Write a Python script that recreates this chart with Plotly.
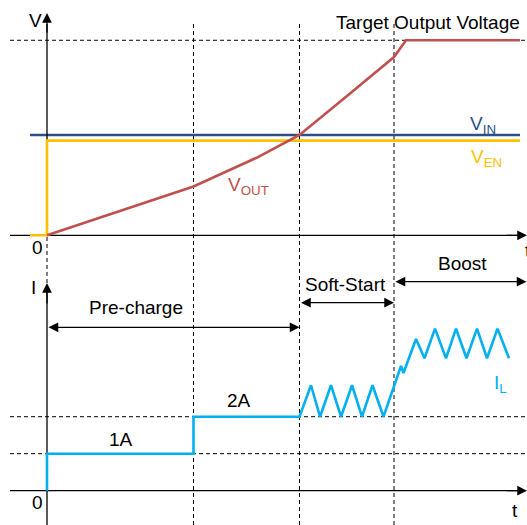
import plotly.graph_objects as go

# ---------------- data (schematic units: time t, volts V, amps A) ----------------
T1, T2, T3 = 1.465, 2.525, 3.47          # phase boundaries (Pre-charge step, Soft-Start, Boost)
V_IN = 3.6
V_EN = 3.4
V_TARGET = 7.0
I_STEP1 = 1.0
I_STEP2 = 2.0

vin_t = [-0.17, 4.73]
vin_v = [V_IN, V_IN]

ven_t = [-0.17, 0.0, 0.0, 4.73]
ven_v = [0.0, 0.0, V_EN, V_EN]

vout_t = [0.0, 1.465, 2.10, 2.525, 3.0, 3.47, 3.59, 4.73]
vout_v = [0.0, 1.75, 2.79, 3.6, 5.0, 6.4, 7.0, 7.0]

il_t = [0.0, 0.0, 1.465, 1.465, 2.525,
        2.64, 2.73, 2.84, 2.94, 3.05, 3.15, 3.255, 3.365,
        3.54, 3.565,
        3.69, 3.775, 3.88, 3.99, 4.09, 4.195, 4.30, 4.40, 4.505, 4.62]
il_a = [0.0, 1.0, 1.0, 2.0, 2.0,
        2.85, 2.0, 2.85, 2.0, 2.85, 2.0, 2.85, 2.0,
        3.37, 3.18,
        4.10, 3.58, 4.38, 3.58, 4.38, 3.58, 4.38, 3.58, 4.38, 3.58]

phase_labels = ["Pre-charge", "Soft-Start", "Boost"]
current_labels = ["1A", "2A"]

# ---------------- layout geometry (pixel anchors) ----------------
W, H = 527, 525
X0, PX_PER_T = 47.0, 100.0
V0_PX, PX_PER_V = 235.3, 27.86
I0_PX, PX_PER_A = 490.7, 37.0

def tx(px):
    return (px - X0) / PX_PER_T

def vy(py):
    return (V0_PX - py) / PX_PER_V

def iy(py):
    return (I0_PX - py) / PX_PER_A

FONT = "Liberation Sans, Arial, sans-serif"
FS = 19
C_VOUT = "#C0504D"
C_VIN = "#2D4F86"
C_VEN = "#FFC000"
C_IL = "#00B0F0"
AX = dict(color="black", width=1.3)

fig = go.Figure()
fig.add_trace(go.Scatter(x=vin_t, y=vin_v, mode="lines", line=dict(color=C_VIN, width=2.6), yaxis="y"))
# axis lines (drawn above V_IN, below the other curves)
fig.add_trace(go.Scatter(x=[tx(10), tx(518), None, 0, 0], y=[0, 0, None, 0, vy(24)],
                         mode="lines", line=AX, yaxis="y"))
fig.add_trace(go.Scatter(x=[tx(10), tx(518), None, 0, 0], y=[0, 0, None, iy(525), iy(292)],
                         mode="lines", line=AX, yaxis="y2"))
fig.add_trace(go.Scatter(x=ven_t, y=ven_v, mode="lines", line=dict(color=C_VEN, width=2.6), yaxis="y"))
fig.add_trace(go.Scatter(x=vout_t, y=vout_v, mode="lines", line=dict(color=C_VOUT, width=2.6), yaxis="y"))
fig.add_trace(go.Scatter(x=il_t, y=il_a, mode="lines", line=dict(color=C_IL, width=2.6), yaxis="y2"))

dash = dict(color="black", width=1, dash="4px,3px")
shapes = []
# vertical phase dashed lines
for t in (T1, T2, T3):
    shapes.append(dict(type="line", xref="x", yref="paper", x0=t, x1=t,
                       y0=0, y1=1 - 22 / H, line=dash, layer="below"))
# dashed continuation of axis between panels
shapes.append(dict(type="line", xref="x", yref="paper", x0=0, x1=0,
                   y0=1 - 283 / H, y1=1 - 235 / H, line=dash, layer="below"))
# horizontal dashed levels
shapes.append(dict(type="line", xref="x", yref="y", x0=tx(10), x1=tx(527),
                   y0=V_TARGET, y1=V_TARGET, line=dash, layer="below"))
for lvl in (I_STEP1, I_STEP2):
    shapes.append(dict(type="line", xref="x", yref="y2", x0=tx(10), x1=tx(527),
                       y0=lvl, y1=lvl, line=dash, layer="below"))

ann = []

def arrow(x, y, ax, ay, yref, both=False):
    ann.append(dict(x=x, y=y, ax=ax, ay=ay, xref="x", yref=yref, axref="x", ayref=yref,
                    text="", showarrow=True, arrowhead=2, arrowsize=1.5, arrowwidth=1.3,
                    arrowcolor="black", standoff=0, startstandoff=0,
                    startarrowhead=2, startarrowsize=1.5,
                    arrowside="end+start" if both else "end"))

# axis arrowheads (short tails overlapping the axis lines)
arrow(tx(527), 0, tx(505), 0, "y")
arrow(0, vy(13), 0, vy(34), "y")
arrow(tx(527), 0, tx(505), 0, "y2")
arrow(0, iy(283), 0, iy(305), "y2")

# phase arrows
arrow(tx(299.5), iy(327.3), tx(47), iy(327.3), "y2", both=True)
arrow(tx(394), iy(302.7), tx(299.5), iy(302.7), "y2", both=True)
arrow(tx(526.5), iy(281.7), tx(394), iy(281.7), "y2", both=True)

def text(px, py, s, color="black", xanchor="center", size=FS):
    ann.append(dict(x=tx(px), y=vy(py), xref="x", yref="y", text=s, showarrow=False,
                    xanchor=xanchor, yanchor="middle",
                    font=dict(family=FONT, size=size, color=color)))

text(35, 20, "V")
text(427.5, 22, "Target Output Voltage")
text(468, 125, "V<sub>IN</sub>", C_VIN, "left")
text(469, 158, "V<sub>EN</sub>", C_VEN, "left")
text(226, 186, "V<sub>OUT</sub>", C_VOUT, "left")
text(37, 247, "0")
text(522.5, 250, "t", xanchor="left")
text(33, 287, "I")
text(37, 502, "0")
text(515, 510, "t")
text(121, 439, current_labels[0])
text(239, 400, current_labels[1])
text(136, 307, phase_labels[0])
text(345.5, 284, phase_labels[1])
text(462.5, 263, phase_labels[2])
text(492, 384, "I<sub>L</sub>", C_IL, "left")

fig.update_layout(
    width=W, height=H,
    margin=dict(l=0, r=0, t=0, b=0),
    paper_bgcolor="white", plot_bgcolor="white",
    showlegend=False,
    xaxis=dict(range=[tx(0), tx(W)], visible=False, fixedrange=True),
    yaxis=dict(range=[vy(H), vy(0)], visible=False, fixedrange=True),
    yaxis2=dict(range=[iy(H), iy(0)], visible=False, overlaying="y", fixedrange=True),
    shapes=shapes,
    annotations=ann,
)

fig.write_html("out.html", config={"staticPlot": True},
               post_script="document.body.style.margin='0';document.body.style.overflow='hidden';")
